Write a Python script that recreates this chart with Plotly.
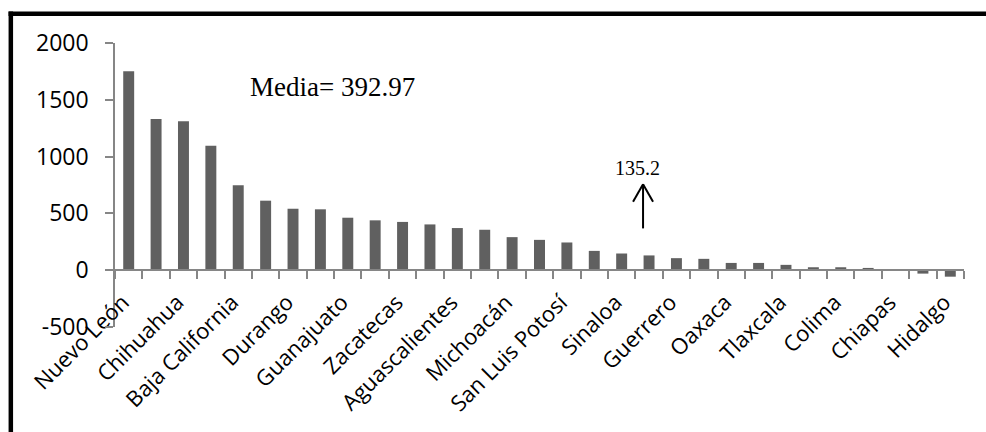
import plotly.graph_objects as go

# Data
categories = [
    "Nuevo León", "Coahuila", "Chihuahua", "Sonora", "Baja California",
    "Tamaulipas", "Durango", "Jalisco", "Guanajuato", "Querétaro",
    "Zacatecas", "Puebla", "Aguascalientes", "México", "Michoacán",
    "Veracruz", "San Luis Potosí", "Yucatán", "Sinaloa", "Morelos",
    "Guerrero", "Tabasco", "Oaxaca", "Baja California Sur", "Tlaxcala",
    "Nayarit", "Colima", "Quintana Roo", "Chiapas", "Campeche", "Hidalgo",
]
values = [
    1751, 1331, 1312, 1095, 748,
    612, 541, 536, 462, 439,
    425, 403, 371, 356, 291,
    267, 244, 170, 147, 130,
    106, 100, 64, 64, 47,
    26, 26, 20, 8, -30,
    -57,
]
shown_labels = categories[::2]
y_ticks = [-500, 0, 500, 1000, 1500, 2000]
y_tick_text = ["-500", "0", "500", "1000", "1500", "2000"]
mean_text = "Media= 392.97"
marker_text = "135.2"
marker_category = categories[19]

GREY = "#868686"
BAR = "#606060"

fig = go.Figure()
fig.add_trace(go.Bar(x=categories, y=values, marker=dict(color=BAR, line=dict(width=0)),
                     showlegend=False, hoverinfo="x+y"))

zero_pos = (0 - y_ticks[0]) / (y_ticks[-1] - y_ticks[0])

fig.update_layout(
    width=986, height=432,
    margin=dict(l=115, r=22, t=43, b=105),
    paper_bgcolor="white", plot_bgcolor="white",
    bargap=0.6,
    xaxis=dict(
        type="category", range=[-0.5, len(categories) - 0.5],
        tickvals=shown_labels, ticktext=shown_labels,
        tickangle=-45, ticks="", showline=False, showgrid=False, zeroline=False,
        anchor="free", position=zero_pos,
        ticklabelstandoff=14, ticklabelshift=-6,
        tickfont=dict(family="Open Sans", size=22, color="black"),
    ),
    xaxis2=dict(
        overlaying="x", type="linear", range=[-0.5, len(categories) - 0.5],
        tick0=-0.5, dtick=1, ticks="outside", ticklen=8, tickwidth=1.5, tickcolor=GREY,
        showline=True, linecolor=GREY, linewidth=1.5, showticklabels=False,
        showgrid=False, zeroline=False, anchor="free", position=zero_pos,
    ),
    yaxis=dict(
        range=[y_ticks[0], y_ticks[-1]], tickvals=y_ticks, ticktext=y_tick_text,
        showline=True, linecolor=GREY, linewidth=1.5,
        ticks="outside", ticklen=8, tickwidth=1.5, tickcolor=GREY,
        showgrid=False, zeroline=False, ticklabelstandoff=12,
        tickfont=dict(family="Open Sans", size=23, color="black"),
    ),
)
fig.add_trace(go.Scatter(x=[None], y=[None], xaxis="x2", showlegend=False, hoverinfo="skip"))

# annotations
fig.add_annotation(x=0.1567, y=0.844, xref="paper", yref="paper", text=mean_text,
                   showarrow=False, xanchor="left", yanchor="middle",
                   font=dict(family="Liberation Serif", size=27, color="black"))
fig.add_annotation(x=marker_category, y=900, xref="x", yref="y", text=marker_text,
                   showarrow=False, xshift=-12, xanchor="center", yanchor="middle",
                   font=dict(family="Liberation Serif", size=20, color="black"))
# open arrow
arrow = dict(color="black", width=2)
fig.add_shape(type="line", xref="x", yref="y", xsizemode="pixel", xanchor=marker_category,
              x0=-6, x1=-6, y0=368, y1=756, line=arrow)
fig.add_shape(type="line", xref="x", yref="y", xsizemode="pixel", xanchor=marker_category,
              x0=-16, x1=-6, y0=603, y1=756, line=arrow)
fig.add_shape(type="line", xref="x", yref="y", xsizemode="pixel", xanchor=marker_category,
              x0=4, x1=-6, y0=603, y1=756, line=arrow)

# white cover at the far right of the page
fig.add_shape(type="rect", xref="paper", yref="paper",
              x0=1.005, x1=1.1, y0=-0.6, y1=1.2, line=dict(width=0),
              fillcolor="white", layer="above")

# outer frame (top and left edges; right/bottom are outside the picture)
frame = dict(color="black", width=4.5)
fig.add_shape(type="line", xref="paper", yref="paper",
              x0=-0.1254, x1=1.3, y0=1.1033, y1=1.1033, line=frame, layer="above")
fig.add_shape(type="line", xref="paper", yref="paper",
              x0=-0.1227, x1=-0.1227, y0=1.1113, y1=-0.6, line=frame, layer="above")

fig.write_html("out.html", config={"displayModeBar": False},
               post_script="document.body.style.margin='0px';document.body.style.overflow='hidden';")
